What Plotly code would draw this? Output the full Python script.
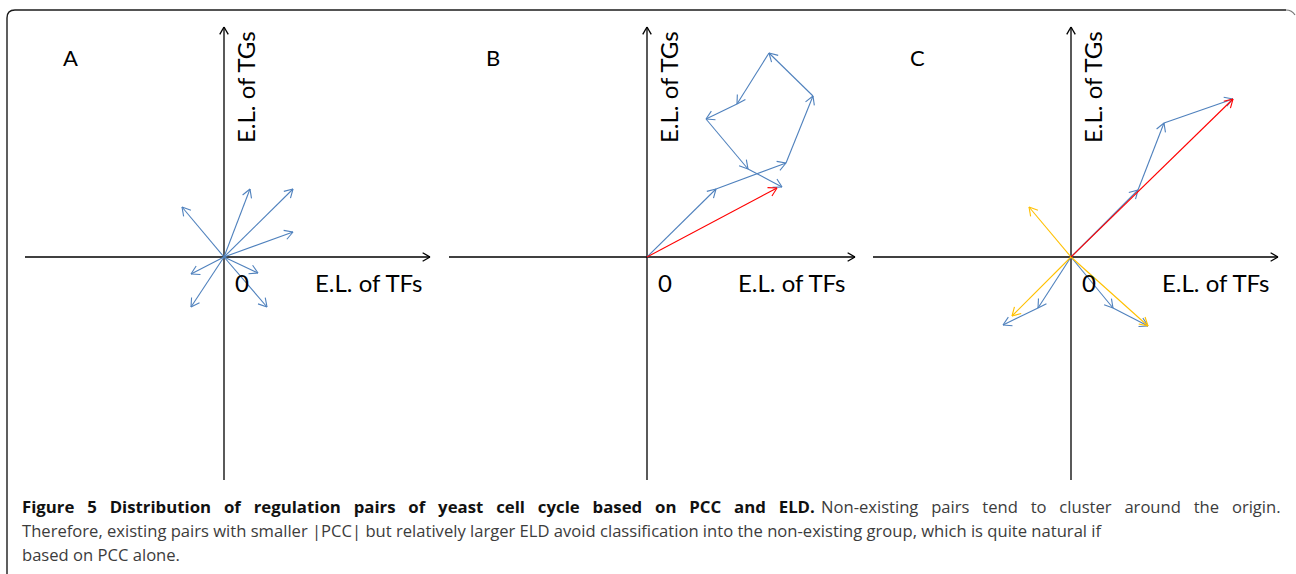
import math
import plotly.graph_objects as go

# ---------------- data (unit = arbitrary expression-level units) ----------------
# Panel A: vectors of individual regulation pairs from the origin
A_dx = [-4.2, 2.6, 6.9, 6.9, 3.4, 4.3, -3.3, -3.3]
A_dy = [5.0, 6.8, 6.8, 2.5, -1.6, -5.0, -1.7, -5.0]

# Panel B: chained (accumulated) blue vectors and resulting red vector
B_chain_x = [0, 6.9, 13.9, 16.6, 12.2, 9.0, 5.9, 10.1, 13.5]
B_chain_y = [0, 6.8, 9.4, 16.1, 20.4, 15.3, 13.8, 8.8, 7.0]
B_red_x = [0, 13.0]
B_red_y = [0, 6.9]

# Panel C: chained blue vectors, red resultant and yellow resultants
C_chain1_x = [0, 6.7, 9.3, 16.2]
C_chain1_y = [0, 6.7, 13.4, 15.8]
C_chain2_x = [0, -3.3, -6.8]
C_chain2_y = [0, -5.1, -6.8]
C_chain3_x = [0, 4.2, 7.7]
C_chain3_y = [0, -5.1, -6.9]
C_red_x = [0, 16.2]
C_red_y = [0, 15.8]
C_yellow_dx = [-4.2, -5.9, 7.7]
C_yellow_dy = [5.0, -5.9, -6.9]

# axis extents per panel
AXIS_X = {"A": (-19.9, 20.6), "B": (-19.8, 20.8), "C": (-19.8, 20.7)}
AXIS_Y = (-22.3, 23.0)

PANELS = ["A", "B", "C"]
ORIGIN_PX = {"A": 224, "B": 647, "C": 1071}
ORIGIN_PY = 257

X_LABEL = "E.L. of TFs"
Y_LABEL = "E.L. of TGs"

CAPTION_BOLD = "Figure 5 Distribution of regulation pairs of yeast cell cycle based on PCC and ELD."
CAPTION_1 = "Non-existing pairs tend to cluster around the origin."
CAPTION_2 = ("Therefore, existing pairs with smaller |PCC| but relatively larger ELD avoid "
             "classification into the non-existing group, which is quite natural if")
CAPTION_3 = "based on PCC alone."

# ---------------- styles ----------------
W, H = 1296, 574
BLUE = "#4F81BD"
RED = "#FF0000"
YELLOW = "#FFC000"
BLACK = "#000000"
XR = [-20.5, 21.2]
YR = [-23.5, 24.0]
PX_PER_UNIT = 10.0


def arrows(segs, head=0.95, ang=30):
    """segs: list of (x0, y0, x1, y1). returns xs, ys for a line trace incl. open V heads."""
    xs, ys = [], []
    a = math.radians(ang)
    for x0, y0, x1, y1 in segs:
        xs += [x0, x1, None]
        ys += [y0, y1, None]
        d = math.hypot(x1 - x0, y1 - y0)
        ux, uy = (x1 - x0) / d, (y1 - y0) / d
        bx, by = -ux, -uy
        for s in (a, -a):
            rx = bx * math.cos(s) - by * math.sin(s)
            ry = bx * math.sin(s) + by * math.cos(s)
            xs += [x1 + head * rx, x1, None]
            ys += [y1 + head * ry, y1, None]
    return xs, ys


def chain(xs, ys):
    return [(xs[i], ys[i], xs[i + 1], ys[i + 1]) for i in range(len(xs) - 1)]


def star(dx, dy):
    return [(0, 0, a, b) for a, b in zip(dx, dy)]


fig = go.Figure()


def add(segs, color, idx, width=1.1, head=0.95):
    xs, ys = arrows(segs, head=head)
    sfx = "" if idx == 1 else str(idx)
    fig.add_trace(go.Scatter(x=xs, y=ys, mode="lines", xaxis="x" + sfx, yaxis="y" + sfx,
                             line=dict(color=color, width=width), hoverinfo="skip",
                             showlegend=False))


for i, p in enumerate(PANELS, start=1):
    x0, x1 = AXIS_X[p]
    y0, y1 = AXIS_Y
    add([(x0, 0, x1, 0), (0, y0, 0, y1)], BLACK, i, width=1.3, head=0.85)

add(star(A_dx, A_dy), BLUE, 1)
add(chain(B_chain_x, B_chain_y), BLUE, 2)
add(chain(B_red_x, B_red_y), RED, 2)
add(chain(C_chain1_x, C_chain1_y) + chain(C_chain2_x, C_chain2_y) + chain(C_chain3_x, C_chain3_y), BLUE, 3)
add(star(C_yellow_dx, C_yellow_dy), YELLOW, 3)
add(chain(C_red_x, C_red_y), RED, 3)

layout = dict(width=W, height=H, margin=dict(l=0, r=0, t=0, b=0),
              paper_bgcolor="white", plot_bgcolor="rgba(0,0,0,0)", showlegend=False)

ytop = ORIGIN_PY - YR[1] * PX_PER_UNIT
ybot = ORIGIN_PY - YR[0] * PX_PER_UNIT
ydom = [1 - ybot / H, 1 - ytop / H]

annotations = []
LABEL_FONT = dict(family="Lato, Open Sans, sans-serif", size=24, color=BLACK)
for i, p in enumerate(PANELS, start=1):
    sfx = "" if i == 1 else str(i)
    ox = ORIGIN_PX[p]
    xl = ox + XR[0] * PX_PER_UNIT
    xr = ox + XR[1] * PX_PER_UNIT
    layout["xaxis" + sfx] = dict(domain=[xl / W, xr / W], range=XR, visible=False,
                                  anchor="y" + sfx, fixedrange=True)
    layout["yaxis" + sfx] = dict(domain=ydom, range=YR, visible=False,
                                  anchor="x" + sfx, fixedrange=True)
    xref, yref = "x" + sfx, "y" + sfx
    annotations += [
        dict(text=p, x=-15.4, y=19.9, xref=xref, yref=yref, showarrow=False,
             font=dict(family="Lato, sans-serif", size=22, color=BLACK)),
        dict(text=Y_LABEL, x=2.2, y=17.0, xref=xref, yref=yref, showarrow=False,
             textangle=-90, font=LABEL_FONT),
        dict(text="0", x=1.75, y=-2.5, xref=xref, yref=yref, showarrow=False, font=LABEL_FONT),
        dict(text=X_LABEL, x=14.4, y=-2.5, xref=xref, yref=yref, showarrow=False, font=LABEL_FONT),
    ]

CAP_FONT = dict(family="Open Sans, sans-serif", size=16.6, color="#3c3c3c")
cap_x = 20 / W
annotations += [
    dict(text="<span style='word-spacing:8.5px'>" + CAPTION_BOLD + "</span>",
         x=cap_x, y=1 - 506 / H, xref="paper", yref="paper", xanchor="left", yanchor="middle",
         showarrow=False,
         font=dict(family="Open Sans, sans-serif", size=16.8, color="#111", weight="bold")),
    dict(text="<span style='word-spacing:8.5px'>" + CAPTION_1 + "</span>",
         x=1283 / W, y=1 - 506 / H, xref="paper", yref="paper", xanchor="right", yanchor="middle",
         showarrow=False, font=CAP_FONT),
    dict(text=CAPTION_2, x=cap_x, y=1 - 530 / H, xref="paper", yref="paper", xanchor="left",
         yanchor="middle", showarrow=False, font=CAP_FONT),
    dict(text=CAPTION_3, x=cap_x, y=1 - 554 / H, xref="paper", yref="paper", xanchor="left",
         yanchor="middle", showarrow=False, font=CAP_FONT),
]
layout["annotations"] = annotations


def px_x(v):
    return v / W


def px_y(v):
    return 1 - v / H


BORDER = dict(color="#1a1a1a", width=1.4)
layout["shapes"] = [
    dict(type="line", xref="paper", yref="paper", x0=px_x(15), x1=px_x(1286),
         y0=px_y(10), y1=px_y(10), line=BORDER),
    dict(type="line", xref="paper", yref="paper", x0=px_x(7), x1=px_x(7),
         y0=px_y(18), y1=px_y(574), line=BORDER),
    dict(type="path", xref="paper", yref="paper", line=BORDER,
         path=f"M {px_x(7)},{px_y(18)} Q {px_x(7)},{px_y(10)} {px_x(15)},{px_y(10)}"),
    dict(type="path", xref="paper", yref="paper", line=dict(color="#777", width=1.2),
         path=f"M {px_x(1286)},{px_y(10)} Q {px_x(1292)},{px_y(10)} {px_x(1295)},{px_y(15)}"),
]

fig.update_layout(**layout)
fig.write_html("out.html", config={"displayModeBar": False},
               post_script="document.body.style.margin='0';document.body.style.overflow='hidden';")
